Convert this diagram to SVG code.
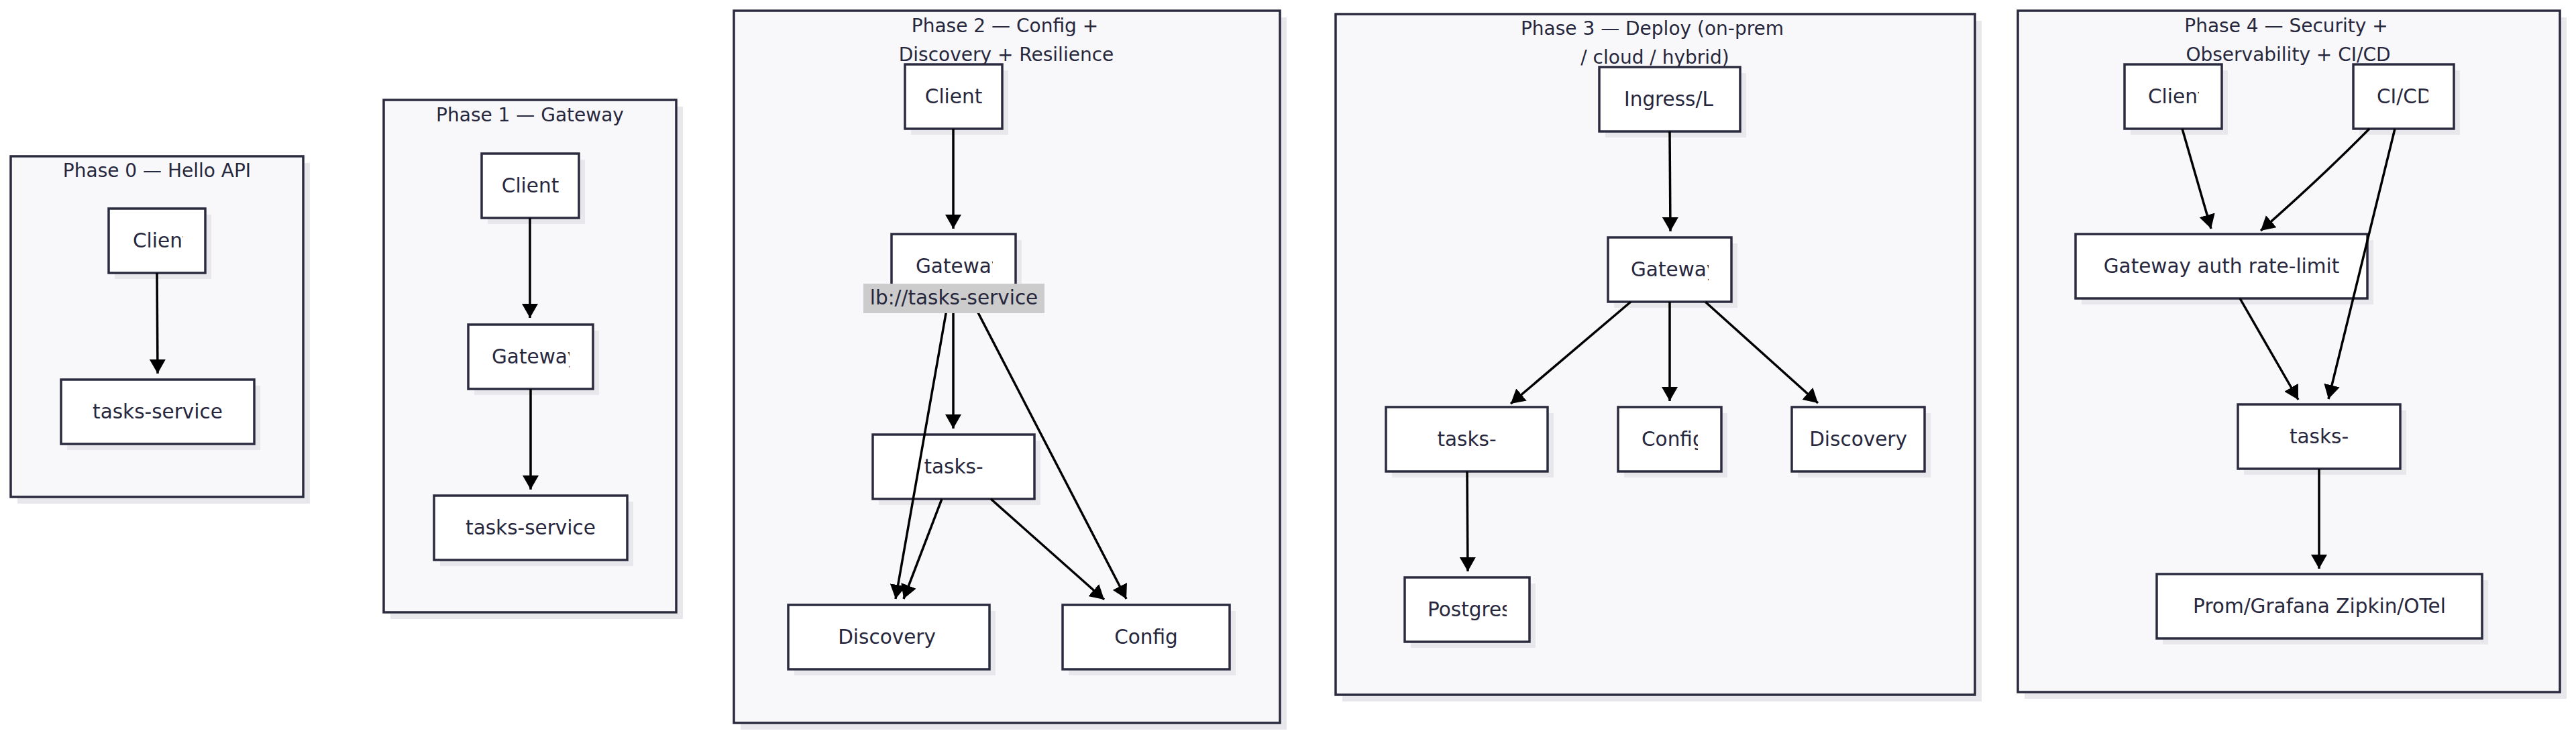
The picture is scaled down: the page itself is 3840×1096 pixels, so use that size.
<svg xmlns="http://www.w3.org/2000/svg" width="3840" height="1096" viewBox="0 0 3840 1096">
<style>
text{font-family:"DejaVu Sans","Liberation Sans",sans-serif;fill:#27273d}
.cl{fill:#f8f8fa;stroke:#2b2b40;stroke-width:3.5}
.sh{fill:#e8e8ec}
.nd{fill:#ffffff;stroke:#2b2b40;stroke-width:3.5}
.t{font-size:28px;text-anchor:middle}
.l{font-size:29.5px}
.m{text-anchor:middle}
.e{fill:none;stroke:#000;stroke-width:3.5;marker-end:url(#ah)}
.el{fill:#cccccc}
</style>
<defs>
<marker id="ah" viewBox="0 0 21 24" refX="21" refY="12" markerWidth="21" markerHeight="24" markerUnits="userSpaceOnUse" orient="auto"><path d="M0,0 L21,12 L0,24 z" fill="#000"/></marker>
<clipPath id="c0c"><rect x="162" y="311" width="111" height="96"/></clipPath>
<clipPath id="c1g"><rect x="698" y="484" width="151" height="96"/></clipPath>
<clipPath id="c2g"><rect x="1329" y="349" width="151" height="96"/></clipPath>
<clipPath id="c3i"><rect x="2384" y="100" width="172" height="96"/></clipPath>
<clipPath id="c3g"><rect x="2397" y="354" width="150" height="96"/></clipPath>
<clipPath id="c3c"><rect x="2412" y="607" width="119" height="96"/></clipPath>
<clipPath id="c3p"><rect x="2094" y="861" width="152" height="96"/></clipPath>
<clipPath id="c4c"><rect x="3167" y="96" width="111" height="96"/></clipPath>
<clipPath id="c4d"><rect x="3508" y="96" width="112" height="96"/></clipPath>
</defs>
<rect width="3840" height="1096" fill="#ffffff"/>
<g id="clusters">
<g id="phase0"><rect class="sh" x="26" y="243" width="436" height="508"/><rect class="cl" x="16" y="233" width="436" height="508"/><text class="t" x="234" y="264">Phase 0 — Hello API</text></g>
<g id="phase1"><rect class="sh" x="582" y="159" width="436" height="764"/><rect class="cl" x="572" y="149" width="436" height="764"/><text class="t" x="790" y="181">Phase 1 — Gateway</text></g>
<g id="phase2"><rect class="sh" x="1104" y="26" width="814" height="1062"/><rect class="cl" x="1094" y="16" width="814" height="1062"/><text class="t" x="1498" y="48">Phase 2 — Config +</text><text class="t" x="1500" y="91">Discovery + Resilience</text></g>
<g id="phase3"><rect class="sh" x="2001" y="31" width="953" height="1015"/><rect class="cl" x="1991" y="21" width="953" height="1015"/><text class="t" x="2463" y="52">Phase 3 — Deploy (on-prem</text><text class="t" x="2467" y="95">/ cloud / hybrid)</text></g>
<g id="phase4"><rect class="sh" x="3018" y="26" width="808" height="1016"/><rect class="cl" x="3008" y="16" width="808" height="1016"/><text class="t" x="3408" y="48">Phase 4 — Security +</text><text class="t" x="3411" y="91">Observability + CI/CD</text></g>
</g>
<g id="nodes">
<g id="p0-client"><rect class="sh" x="171" y="320" width="144" height="96"/><rect class="nd" x="162" y="311" width="144" height="96"/><text class="l" x="198" y="369" clip-path="url(#c0c)">Client</text></g>
<g id="p0-tasks"><rect class="sh" x="100" y="575" width="288" height="96"/><rect class="nd" x="91" y="566" width="288" height="96"/><text class="l m" x="235" y="624">tasks-service</text></g>
<g id="p1-client"><rect class="sh" x="727" y="238" width="145" height="96"/><rect class="nd" x="718" y="229" width="145" height="96"/><text class="l m" x="790.5" y="287">Client</text></g>
<g id="p1-gateway"><rect class="sh" x="707" y="493" width="186" height="96"/><rect class="nd" x="698" y="484" width="186" height="96"/><text class="l" x="733" y="542" clip-path="url(#c1g)">Gateway</text></g>
<g id="p1-tasks"><rect class="sh" x="656" y="748" width="288" height="96"/><rect class="nd" x="647" y="739" width="288" height="96"/><text class="l m" x="791" y="797">tasks-service</text></g>
<g id="p2-client"><rect class="sh" x="1358" y="105" width="145" height="96"/><rect class="nd" x="1349" y="96" width="145" height="96"/><text class="l m" x="1421.5" y="154">Client</text></g>
<g id="p2-gateway"><rect class="sh" x="1338" y="358" width="185" height="96"/><rect class="nd" x="1329" y="349" width="185" height="96"/><text class="l" x="1365" y="407" clip-path="url(#c2g)">Gateway</text></g>
<g id="p2-tasks"><rect class="sh" x="1310" y="657" width="241" height="96"/><rect class="nd" x="1301" y="648" width="241" height="96"/><text class="l m" x="1421.5" y="706">tasks-</text></g>
<g id="p2-discovery"><rect class="sh" x="1184" y="911" width="300" height="96"/><rect class="nd" x="1175" y="902" width="300" height="96"/><text class="l m" x="1322" y="960">Discovery</text></g>
<g id="p2-config"><rect class="sh" x="1593" y="911" width="249" height="96"/><rect class="nd" x="1584" y="902" width="249" height="96"/><text class="l m" x="1708.5" y="960">Config</text></g>
<g id="p3-ingress"><rect class="sh" x="2393" y="109" width="210" height="96"/><rect class="nd" x="2384" y="100" width="210" height="96"/><text class="l" x="2421" y="158" clip-path="url(#c3i)">Ingress/LB</text></g>
<g id="p3-gateway"><rect class="sh" x="2406" y="363" width="184" height="96"/><rect class="nd" x="2397" y="354" width="184" height="96"/><text class="l" x="2431" y="412" clip-path="url(#c3g)">Gateway</text></g>
<g id="p3-tasks"><rect class="sh" x="2075" y="616" width="241" height="96"/><rect class="nd" x="2066" y="607" width="241" height="96"/><text class="l m" x="2186.5" y="665">tasks-</text></g>
<g id="p3-config"><rect class="sh" x="2421" y="616" width="154" height="96"/><rect class="nd" x="2412" y="607" width="154" height="96"/><text class="l" x="2447" y="665" clip-path="url(#c3c)">Config</text></g>
<g id="p3-discovery"><rect class="sh" x="2680" y="616" width="198" height="96"/><rect class="nd" x="2671" y="607" width="198" height="96"/><text class="l m" x="2770" y="665">Discovery</text></g>
<g id="p3-postgres"><rect class="sh" x="2103" y="870" width="186" height="96"/><rect class="nd" x="2094" y="861" width="186" height="96"/><text class="l" x="2128" y="919" clip-path="url(#c3p)">Postgres</text></g>
<g id="p4-client"><rect class="sh" x="3176" y="105" width="145" height="96"/><rect class="nd" x="3167" y="96" width="145" height="96"/><text class="l" x="3202" y="154" clip-path="url(#c4c)">Client</text></g>
<g id="p4-cicd"><rect class="sh" x="3517" y="105" width="150" height="96"/><rect class="nd" x="3508" y="96" width="150" height="96"/><text class="l" x="3543" y="154" clip-path="url(#c4d)">CI/CD</text></g>
<g id="p4-gateway"><rect class="sh" x="3103" y="358" width="435" height="96"/><rect class="nd" x="3094" y="349" width="435" height="96"/><text class="l m" x="3311.5" y="407">Gateway auth rate-limit</text></g>
<g id="p4-tasks"><rect class="sh" x="3345" y="612" width="242" height="96"/><rect class="nd" x="3336" y="603" width="242" height="96"/><text class="l m" x="3457" y="661">tasks-</text></g>
<g id="p4-obs"><rect class="sh" x="3224" y="865" width="485" height="96"/><rect class="nd" x="3215" y="856" width="485" height="96"/><text class="l m" x="3457.5" y="914">Prom/Grafana Zipkin/OTel</text></g>
</g>
<g id="connectors">
<path class="e" d="M234,407 L235,557"/>
<path class="e" d="M790,325 L790,474"/>
<path class="e" d="M791,580 L791,730"/>
<path class="e" d="M1421,192 L1421,341"/>
<path class="e" d="M1421,445 L1421,639"/>
<path class="e" d="M1414,445 L1335,893"/>
<path class="e" d="M1447,445 L1679,893"/>
<path class="e" d="M1404,744 L1347,893"/>
<path class="e" d="M1477,744 L1646,894"/>
<path class="e" d="M2489,196 L2490,345"/>
<path class="e" d="M2431,450 L2252,602"/>
<path class="e" d="M2489,450 L2489,598"/>
<path class="e" d="M2542,450 L2710,601"/>
<path class="e" d="M2187,703 L2188,852"/>
<path class="e" d="M3253,192 L3296,341"/>
<path class="e" d="M3532,192 Q3460,265 3370,344"/>
<path class="e" d="M3570,192 L3471,595"/>
<path class="e" d="M3339,445 L3426,596"/>
<path class="e" d="M3457,699 L3457,848"/>
</g>
<g id="edge-labels">
<rect class="el" x="1287" y="423" width="270" height="44"/>
<text class="l m" x="1422" y="454">lb://tasks-service</text>
</g>
</svg>
